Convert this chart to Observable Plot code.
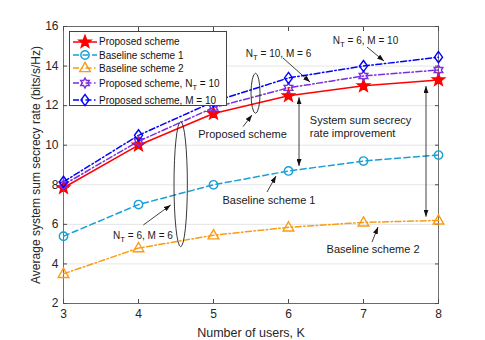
<!DOCTYPE html>
<html><head><meta charset="utf-8">
<script src="https://cdn.jsdelivr.net/npm/d3@7"></script>
<script src="https://cdn.jsdelivr.net/npm/@observablehq/plot@0.6"></script>
<style>
body{margin:0;background:#fff;}
#wrap{position:relative;width:485px;height:340px;font-family:"Liberation Sans",Arial,Helvetica,sans-serif;}
#legend{position:absolute;left:69px;top:31px;width:158px;height:75px;background:#fff;border:1px solid #444;box-sizing:border-box;}
.row{position:absolute;left:0;height:14px;display:flex;align-items:center;font-size:10px;color:#111;white-space:nowrap;}
.row svg{margin-left:3px;margin-right:2px;overflow:visible;}
.row sub{font-size:7.5px;vertical-align:-3px;line-height:0;}
</style>
</head><body>
<div id="wrap"><div id="chart"></div><div id="legend"></div></div>
<script>
// ---- data ----
const users = [3, 4, 5, 6, 7, 8];
const proposed     = [7.85, 10.0, 11.6, 12.5, 13.0, 13.3];
const baseline1    = [5.4, 7.0, 8.0, 8.7, 9.2, 9.5];
const baseline2    = [3.5, 4.8, 5.45, 5.85, 6.1, 6.2];
const proposedNT10 = [8.0, 10.2, 11.9, 12.9, 13.5, 13.8];
const proposedM10  = [8.15, 10.5, 12.2, 13.4, 14.0, 14.45];
const yTicks = [2, 4, 6, 8, 10, 12, 14, 16];
const seriesNames = ["Proposed scheme", "Baseline scheme 1", "Baseline scheme 2", "Proposed scheme, N_T = 10", "Proposed scheme, M = 10"];

// annotations (data coordinates)
const annTexts = [
  {x: 5.867, y: 14.635, t: "N_T = 10, M = 6", size: 10, anchor: "middle"},
  {x: 7.027, y: 15.29, t: "N_T = 6, M = 10", size: 10, anchor: "middle"},
  {x: 5.387, y: 10.59, t: "Proposed scheme", size: 11, anchor: "middle"},
  {x: 6.284, y: 10.946, t: "System sum secrecy\nrate improvement", size: 11, anchor: "start"},
  {x: 5.74, y: 7.256, t: "Baseline scheme 1", size: 11, anchor: "middle"},
  {x: 4.06, y: 5.437, t: "N_T = 6, M = 6", size: 10, anchor: "middle"},
  {x: 7.127, y: 4.78, t: "Baseline scheme 2", size: 11, anchor: "middle"}
];
const annArrows = [
  {x1: 5.933, y1: 14.383, x2: 6.293, y2: 13.17, both: false},
  {x1: 7.053, y1: 14.939, x2: 7.28, y2: 14.231, both: false},
  {x1: 5.40, y1: 10.911, x2: 5.52, y2: 11.502, both: false},
  {x1: 5.72, y1: 7.61, x2: 5.84, y2: 8.419, both: false},
  {x1: 4.071, y1: 5.942, x2: 4.436, y2: 6.953, both: false},
  {x1: 7.12, y1: 5.083, x2: 7.2, y2: 5.841, both: false},
  {x1: 6.147, y1: 12.396, x2: 6.147, y2: 8.924, both: true},
  {x1: 7.84, y1: 12.967, x2: 7.84, y2: 6.362, both: true}
];
const annEllipses = [
  {cx: 5.567, cy: 12.599, rx: 0.06, ry: 1.011},
  {cx: 4.569, cy: 8.005, rx: 0.089, ry: 3.159}
];

// ---- symbols ----
function rad(size){ return Math.sqrt(size / Math.PI); }
const starSym = {draw(c, s){ const R = rad(s), r = R * 0.42; for (let i = 0; i < 10; i++){ const a = -Math.PI/2 + i*Math.PI/5, q = i % 2 ? r : R; const x = q*Math.cos(a), y = q*Math.sin(a); i ? c.lineTo(x, y) : c.moveTo(x, y);} c.closePath(); }};
const hexSym = {draw(c, s){ const R = rad(s), r = R / Math.sqrt(3); for (let i = 0; i < 12; i++){ const a = -Math.PI/2 + i*Math.PI/6, q = i % 2 ? r : R; const x = q*Math.cos(a), y = q*Math.sin(a); i ? c.lineTo(x, y) : c.moveTo(x, y);} c.closePath(); }};
const triSym = {draw(c, s){ const R = rad(s); c.moveTo(0, -R); c.lineTo(R*0.95, R*0.65); c.lineTo(-R*0.95, R*0.65); c.closePath(); }};
const diaSym = {draw(c, s){ const R = rad(s); c.moveTo(0, -R); c.lineTo(R*0.72, 0); c.lineTo(0, R); c.lineTo(-R*0.72, 0); c.closePath(); }};
const circSym = {draw(c, s){ const R = rad(s); c.moveTo(R, 0); c.arc(0, 0, R, 0, 2*Math.PI); c.closePath(); }};

const styles = [
  {values: proposed, color: "#ff0000", dash: null, sym: starSym, r: 6.4, fill: "#ff0000"},
  {values: baseline1, color: "#1a9fd6", dash: "6,3.5", sym: circSym, r: 4.2, fill: "none"},
  {values: baseline2, color: "#fa9b16", dash: "6,2.5,1.5,2.5", sym: triSym, r: 5.6, fill: "none"},
  {values: proposedNT10, color: "#7a2ee0", dash: "6,2.5,1.5,2.5", sym: hexSym, r: 5.0, fill: "none"},
  {values: proposedM10, color: "#0000ff", dash: "6,2.5,1.5,2.5", sym: diaSym, r: 5.6, fill: "none"}
];
const rows = [];
styles.forEach((s, k) => users.forEach((u, i) => rows.push({k, name: seriesNames[k], users: u, rate: s.values[i]})));

const lineMarks = styles.map((s, k) => Plot.line(rows.filter(d => d.k === k), {x: "users", y: "rate", stroke: s.color, strokeWidth: 1.5, strokeDasharray: s.dash}));
const dotMarks = styles.map((s, k) => Plot.dot(rows.filter(d => d.k === k), {x: "users", y: "rate", symbol: s.sym, r: s.r, stroke: s.color, strokeWidth: 1.4, fill: s.fill}));

function annotationMark(index, scales){
  const x = scales.x, y = scales.y;
  const g = d3.create("svg:g");
  const defs = g.append("defs");
  defs.append("marker").attr("id", "ahead").attr("viewBox", "0 0 7 5").attr("refX", 7).attr("refY", 2.5)
    .attr("markerWidth", 7).attr("markerHeight", 5).attr("markerUnits", "userSpaceOnUse").attr("orient", "auto-start-reverse")
    .append("path").attr("d", "M0,0L7,2.5L0,5Z").attr("fill", "#111");
  annEllipses.forEach(e => {
    g.append("ellipse").attr("cx", x(e.cx)).attr("cy", y(e.cy))
      .attr("rx", Math.abs(x(e.cx + e.rx) - x(e.cx))).attr("ry", Math.abs(y(e.cy + e.ry) - y(e.cy)))
      .attr("fill", "none").attr("stroke", "#222").attr("stroke-width", 0.9);
  });
  annArrows.forEach(a => {
    const l = g.append("line").attr("x1", x(a.x1)).attr("y1", y(a.y1)).attr("x2", x(a.x2)).attr("y2", y(a.y2))
      .attr("stroke", "#111").attr("stroke-width", 0.8).attr("marker-end", "url(#ahead)");
    if (a.both) l.attr("marker-start", "url(#ahead)");
  });
  return g.node();
}

const font = '"Liberation Sans", Arial, Helvetica, sans-serif';
const chart = Plot.plot({
  width: 485, height: 340,
  marginLeft: 63, marginRight: 47, marginTop: 26, marginBottom: 37,
  x: {domain: [3, 8]},
  y: {domain: [2, 16]},
  style: {fontFamily: font, fontSize: "12px", color: "#262626", background: "white", overflow: "visible"},
  marks: [
    Plot.gridY(yTicks, {stroke: "#d9d9d9", strokeOpacity: 1, strokeWidth: 0.7}),
    Plot.frame({stroke: "#4d4d4d", strokeWidth: 0.8}),
    Plot.axisX(users, {anchor: "bottom", tickSize: 0, tickPadding: 6, fontSize: 12, label: "Number of users, K", labelAnchor: "center", labelOffset: 33, labelArrow: "none"}),
    Plot.axisX(users, {anchor: "bottom", tickSize: -4, tickFormat: () => null, label: null, stroke: "#4d4d4d"}),
    Plot.axisX(users, {anchor: "top", tickSize: -4, tickFormat: () => null, label: null, stroke: "#4d4d4d"}),
    Plot.axisY(yTicks, {anchor: "left", tickSize: 0, tickPadding: 5, fontSize: 12, label: "Average system sum secrecy rate (bits/s/Hz)", labelAnchor: "center", labelOffset: 32, labelArrow: "none"}),
    Plot.axisY(yTicks, {anchor: "left", tickSize: -4, tickFormat: () => null, label: null, stroke: "#4d4d4d"}),
    Plot.axisY(yTicks, {anchor: "right", tickSize: -4, tickFormat: () => null, label: null, stroke: "#4d4d4d"}),
    ...lineMarks,
    ...dotMarks,
    annotationMark,
    ...annTexts.map(a => Plot.text([a], {x: "x", y: "y", text: "t", fontSize: a.size, textAnchor: a.anchor, lineHeight: 1.18, fill: "#1a1a1a"}))
  ]
});
document.getElementById("chart").appendChild(chart);

// subscripts for N_T
d3.select(chart).selectAll("text").each(function(){
  const t = this.textContent;
  if (t && t.indexOf("N_T") >= 0 && this.children.length === 0){
    const rest = t.split("N_T")[1];
    this.textContent = "";
    const sel = d3.select(this);
    sel.append("tspan").text("N");
    sel.append("tspan").attr("dy", "0.35em").attr("font-size", "0.78em").text("T");
    sel.append("tspan").attr("dy", "-0.35em").text(rest);
  }
});
d3.select(chart).selectAll("[aria-label='x-axis label'] text").attr("font-size", 12.5);

// legend
const legend = d3.select("#legend");
const rowTops = [2.7, 16, 29.3, 44.3, 61];
styles.forEach((s, k) => {
  const row = legend.append("div").attr("class", "row").style("top", rowTops[k] + "px");
  const svg = row.append("svg").attr("width", 24).attr("height", 14);
  svg.append("line").attr("x1", 0).attr("x2", 24).attr("y1", 7).attr("y2", 7).attr("stroke", s.color).attr("stroke-width", 1.5).attr("stroke-dasharray", s.dash);
  svg.append("path").attr("transform", "translate(12,7)").attr("d", d3.symbol(s.sym, Math.PI * s.r * s.r)())
    .attr("fill", s.fill).attr("stroke", s.color).attr("stroke-width", 1.4);
  const name = seriesNames[k];
  const span = row.append("span");
  if (name.indexOf("N_T") >= 0){
    const p = name.split("N_T");
    span.append("span").text(p[0] + "N");
    span.append("sub").text("T");
    span.append("span").text(p[1]);
  } else span.text(name);
});
</script>
</body></html>
